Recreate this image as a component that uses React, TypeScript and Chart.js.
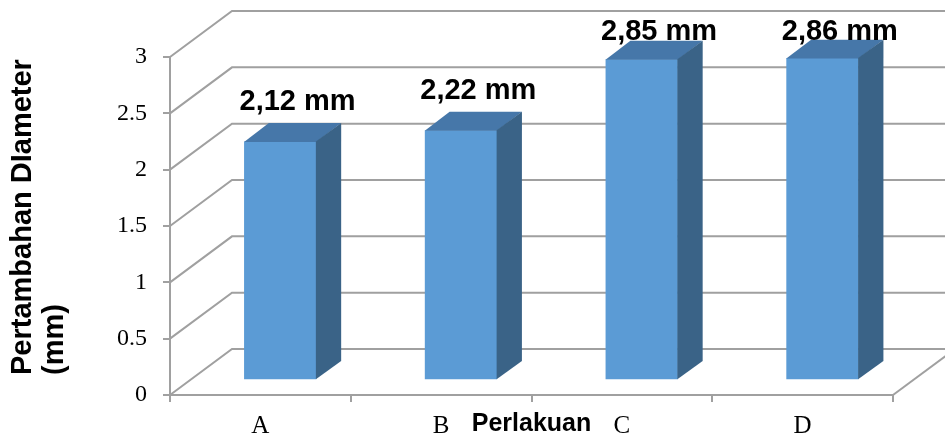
import { useEffect, useRef } from 'react';
import { Chart, registerables } from 'chart.js';

Chart.register(...registerables);

const CATEGORIES = ['A', 'B', 'C', 'D'];
const VALUES = [2.12, 2.22, 2.85, 2.86];
const VALUE_LABELS = ['2,12 mm', '2,22 mm', '2,85 mm', '2,86 mm'];
const Y_TICK_LABELS = ['0', '0.5', '1', '1.5', '2', '2.5', '3'];
const Y_TITLE = ['Pertambahan DIameter', '(mm)'];
const X_TITLE = 'Perlakuan';

const W = 945;
const H = 436;
const WALL_DX = 62;
const WALL_DY = -46;
const BAR_FRONT = 0.32;
const BAR_BACK = 0.72;
const GRID = '#A0A0A0';
const FRONT = '#5B9BD5';
const TOP = '#4677A9';
const SIDE = '#3A6387';
const FX = WALL_DX * BAR_FRONT;
const FY = WALL_DY * BAR_FRONT;
const SX = WALL_DX * (BAR_BACK - BAR_FRONT);
const SY = WALL_DY * (BAR_BACK - BAR_FRONT);

const threeD = {
  id: 'threeD',
  beforeDatasetsDraw(chart: any) {
    const { ctx, chartArea, scales } = chart;
    const y = scales.y;
    const L = chartArea.left;
    const R = chartArea.right;
    const B = chartArea.bottom;
    ctx.save();
    ctx.strokeStyle = GRID;
    ctx.lineWidth = 2;
    y.ticks.forEach((t: any) => {
      const py = y.getPixelForValue(t.value);
      ctx.beginPath();
      ctx.moveTo(L, py);
      ctx.lineTo(L + WALL_DX, py + WALL_DY);
      ctx.lineTo(R + WALL_DX + 20, py + WALL_DY);
      ctx.stroke();
    });
    ctx.beginPath();
    ctx.moveTo(R, B);
    ctx.lineTo(R + WALL_DX, B + WALL_DY);
    ctx.stroke();
    ctx.restore();
  },
  beforeDatasetDraw(chart: any) {
    chart.ctx.save();
    chart.ctx.translate(FX, FY);
  },
  afterDatasetDraw(chart: any, args: any) {
    const ctx = chart.ctx;
    args.meta.data.forEach((bar: any) => {
      const { x, y, base, width } = bar.getProps(['x', 'y', 'base', 'width'], true);
      const l = x - width / 2;
      const r = x + width / 2;
      ctx.fillStyle = TOP;
      ctx.beginPath();
      ctx.moveTo(l, y + 0.5);
      ctx.lineTo(r, y + 0.5);
      ctx.lineTo(r + SX, y + SY);
      ctx.lineTo(l + SX, y + SY);
      ctx.closePath();
      ctx.fill();
      ctx.fillStyle = SIDE;
      ctx.beginPath();
      ctx.moveTo(r - 0.5, y);
      ctx.lineTo(r + SX, y + SY);
      ctx.lineTo(r + SX, base + SY);
      ctx.lineTo(r - 0.5, base);
      ctx.closePath();
      ctx.fill();
    });
    ctx.restore();
  },
  afterDatasetsDraw(chart: any) {
    const ctx = chart.ctx;
    const meta = chart.getDatasetMeta(0);
    ctx.save();
    ctx.font = 'bold 29px "Liberation Sans"';
    ctx.fillStyle = '#000';
    ctx.textAlign = 'center';
    ctx.textBaseline = 'alphabetic';
    meta.data.forEach((bar: any, i: number) => {
      const { x, y } = bar.getProps(['x', 'y'], true);
      const lx = x + FX + SX * 0.7;
      const backTop = y + FY + SY;
      const baseline = Math.max(backTop - 13, 40);
      ctx.fillText(VALUE_LABELS[i], lx, baseline);
    });
    ctx.restore();
  },
  afterDraw(chart: any) {
    const ctx = chart.ctx;
    ctx.save();
    ctx.translate(23, 375);
    ctx.rotate(-Math.PI / 2);
    ctx.font = 'bold 29px "Liberation Sans"';
    ctx.fillStyle = '#000';
    ctx.textAlign = 'left';
    ctx.textBaseline = 'middle';
    ctx.fillText(Y_TITLE[0], 0, 0);
    ctx.fillText(Y_TITLE[1], 0, 32);
    ctx.restore();
  },
};

export default function App() {
  const ref = useRef<HTMLCanvasElement>(null);
  useEffect(() => {
    if (!ref.current) return;
    const chart = new Chart(ref.current, {
      type: 'bar',
      data: {
        labels: CATEGORIES,
        datasets: [
          {
            data: VALUES,
            backgroundColor: FRONT,
            borderWidth: 0,
            barPercentage: 0.4,
            categoryPercentage: 1,
            clip: false as any,
          },
        ],
      },
      options: {
        responsive: false,
        animation: false,
        devicePixelRatio: 1,
        layout: { padding: { top: 57, right: 52, left: 0, bottom: 0 } },
        plugins: { legend: { display: false }, tooltip: { enabled: false } },
        scales: {
          x: {
            grid: { display: true, drawOnChartArea: false, drawTicks: true, tickLength: 7, color: GRID, lineWidth: 2, offset: true },
            border: { display: true, color: GRID, width: 2 },
            ticks: { font: { family: '"Liberation Serif"', size: 25 }, color: '#000', padding: 9 },
            title: {
              display: true,
              text: X_TITLE,
              font: { family: '"Liberation Sans"', size: 25, weight: 'bold', lineHeight: 0.94 },
              color: '#000',
              padding: 0,
            },
            afterFit(s: any) {
              s.height = 41;
            },
          },
          y: {
            min: 0,
            max: 3,
            ticks: {
              stepSize: 0.5,
              font: { family: '"Liberation Serif"', size: 24 },
              color: '#000',
              padding: 16,
              callback: (_v: any, i: number) => Y_TICK_LABELS[i],
            },
            grid: { display: true, drawOnChartArea: false, drawTicks: true, tickLength: 7, color: GRID, lineWidth: 2 },
            border: { display: true, color: GRID, width: 2 },
            afterFit(s: any) {
              s.width = 170;
            },
          },
        },
      } as any,
      plugins: [threeD],
    });
    return () => chart.destroy();
  }, []);
  return (
    <div style={{ position: 'absolute', left: 0, top: 0, width: W, height: H, background: '#fff' }}>
      <canvas ref={ref} width={W} height={H} style={{ display: 'block' }} />
    </div>
  );
}
